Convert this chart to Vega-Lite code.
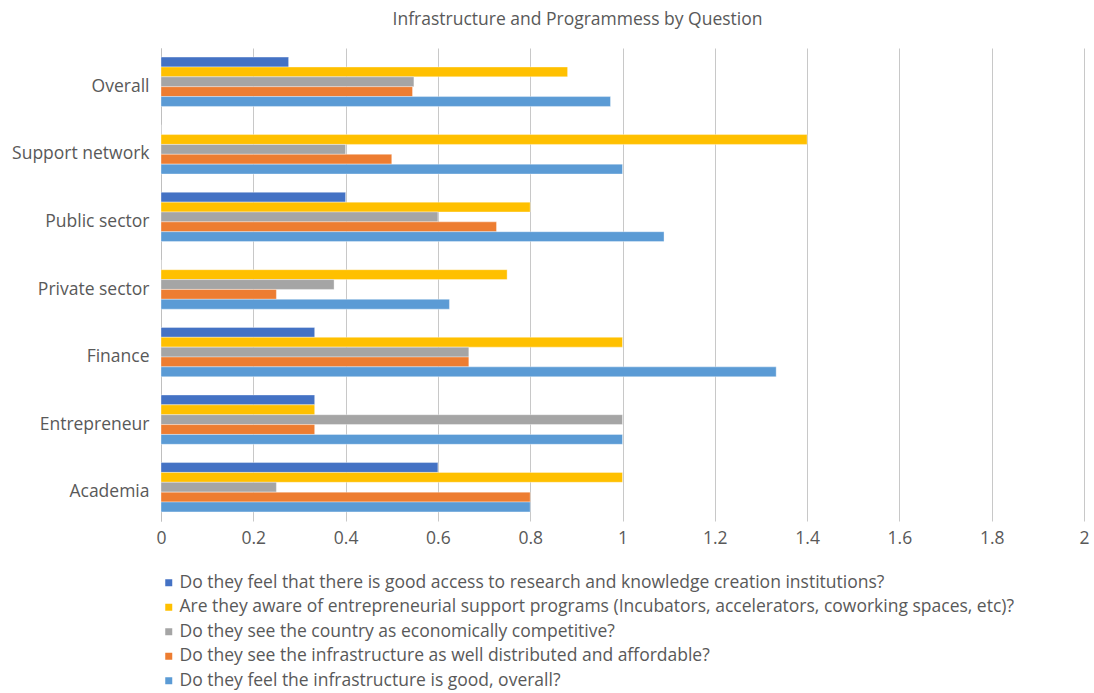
{
  "$schema": "https://vega.github.io/schema/vega-lite/v6.json",
  "autosize": {"type": "none"},
  "padding": {"left": 161, "top": 48, "right": 10, "bottom": 172},
  "width": 923,
  "height": 473,
  "background": "white",
  "title": {
    "text": "Infrastructure and Programmess by Question",
    "anchor": "middle",
    "dx": -45,
    "offset": 20,
    "fontSize": 17.5,
    "font": "Open Sans",
    "fontWeight": 400,
    "color": "#595959"
  },
  "config": {
    "view": {"stroke": null},
    "font": "Open Sans"
  },
  "data": {
    "values": [
      {"group": "Overall", "question": "Do they feel that there is good access to research and knowledge creation institutions?", "value": 0.2765},
      {"group": "Overall", "question": "Are they aware of entrepreneurial support programs (Incubators, accelerators, coworking spaces, etc)?", "value": 0.881},
      {"group": "Overall", "question": "Do they see the country as economically competitive?", "value": 0.548},
      {"group": "Overall", "question": "Do they see the infrastructure as well distributed and affordable?", "value": 0.545},
      {"group": "Overall", "question": "Do they feel the infrastructure is good, overall?", "value": 0.974},

      {"group": "Support network", "question": "Do they feel that there is good access to research and knowledge creation institutions?", "value": 0},
      {"group": "Support network", "question": "Are they aware of entrepreneurial support programs (Incubators, accelerators, coworking spaces, etc)?", "value": 1.4},
      {"group": "Support network", "question": "Do they see the country as economically competitive?", "value": 0.4},
      {"group": "Support network", "question": "Do they see the infrastructure as well distributed and affordable?", "value": 0.5},
      {"group": "Support network", "question": "Do they feel the infrastructure is good, overall?", "value": 1.0},

      {"group": "Public sector", "question": "Do they feel that there is good access to research and knowledge creation institutions?", "value": 0.4},
      {"group": "Public sector", "question": "Are they aware of entrepreneurial support programs (Incubators, accelerators, coworking spaces, etc)?", "value": 0.8},
      {"group": "Public sector", "question": "Do they see the country as economically competitive?", "value": 0.6},
      {"group": "Public sector", "question": "Do they see the infrastructure as well distributed and affordable?", "value": 0.727},
      {"group": "Public sector", "question": "Do they feel the infrastructure is good, overall?", "value": 1.09},

      {"group": "Private sector", "question": "Do they feel that there is good access to research and knowledge creation institutions?", "value": 0},
      {"group": "Private sector", "question": "Are they aware of entrepreneurial support programs (Incubators, accelerators, coworking spaces, etc)?", "value": 0.75},
      {"group": "Private sector", "question": "Do they see the country as economically competitive?", "value": 0.375},
      {"group": "Private sector", "question": "Do they see the infrastructure as well distributed and affordable?", "value": 0.25},
      {"group": "Private sector", "question": "Do they feel the infrastructure is good, overall?", "value": 0.625},

      {"group": "Finance", "question": "Do they feel that there is good access to research and knowledge creation institutions?", "value": 0.333},
      {"group": "Finance", "question": "Are they aware of entrepreneurial support programs (Incubators, accelerators, coworking spaces, etc)?", "value": 1.0},
      {"group": "Finance", "question": "Do they see the country as economically competitive?", "value": 0.667},
      {"group": "Finance", "question": "Do they see the infrastructure as well distributed and affordable?", "value": 0.667},
      {"group": "Finance", "question": "Do they feel the infrastructure is good, overall?", "value": 1.333},

      {"group": "Entrepreneur", "question": "Do they feel that there is good access to research and knowledge creation institutions?", "value": 0.333},
      {"group": "Entrepreneur", "question": "Are they aware of entrepreneurial support programs (Incubators, accelerators, coworking spaces, etc)?", "value": 0.333},
      {"group": "Entrepreneur", "question": "Do they see the country as economically competitive?", "value": 1.0},
      {"group": "Entrepreneur", "question": "Do they see the infrastructure as well distributed and affordable?", "value": 0.333},
      {"group": "Entrepreneur", "question": "Do they feel the infrastructure is good, overall?", "value": 1.0},

      {"group": "Academia", "question": "Do they feel that there is good access to research and knowledge creation institutions?", "value": 0.6},
      {"group": "Academia", "question": "Are they aware of entrepreneurial support programs (Incubators, accelerators, coworking spaces, etc)?", "value": 1.0},
      {"group": "Academia", "question": "Do they see the country as economically competitive?", "value": 0.25},
      {"group": "Academia", "question": "Do they see the infrastructure as well distributed and affordable?", "value": 0.8},
      {"group": "Academia", "question": "Do they feel the infrastructure is good, overall?", "value": 0.8}
    ]
  },
  "mark": {"type": "bar", "stroke": "white", "strokeWidth": 0.6, "strokeOpacity": 0.6},
  "encoding": {
    "y": {
      "field": "group",
      "type": "nominal",
      "sort": ["Overall", "Support network", "Public sector", "Private sector", "Finance", "Entrepreneur", "Academia"],
      "scale": {"paddingInner": 0.27, "paddingOuter": 0.135},
      "axis": {
        "title": null,
        "ticks": false,
        "domain": true,
        "domainColor": "#BFBFBF",
        "domainWidth": 1,
        "labelPadding": 12,
        "labelOffset": 5,
        "labelFontSize": 17.5,
        "labelFont": "Open Sans",
        "labelFontWeight": 400,
        "labelColor": "#595959",
        "grid": false
      }
    },
    "yOffset": {
      "field": "question",
      "type": "nominal",
      "sort": [
        "Do they feel that there is good access to research and knowledge creation institutions?",
        "Are they aware of entrepreneurial support programs (Incubators, accelerators, coworking spaces, etc)?",
        "Do they see the country as economically competitive?",
        "Do they see the infrastructure as well distributed and affordable?",
        "Do they feel the infrastructure is good, overall?"
      ],
      "scale": {"paddingInner": 0, "paddingOuter": 0}
    },
    "x": {
      "field": "value",
      "type": "quantitative",
      "scale": {"domain": [0, 2], "nice": false},
      "axis": {
        "title": null,
        "values": [0, 0.2, 0.4, 0.6, 0.8, 1, 1.2, 1.4, 1.6, 1.8, 2],
        "labelExpr": "format(datum.value, '~g')",
        "domain": false,
        "ticks": false,
        "grid": true,
        "gridColor": "#C8C8C8",
        "gridWidth": 1,
        "labelPadding": 8,
        "labelFontSize": 17.5,
        "labelFont": "Open Sans",
        "labelFontWeight": 400,
        "labelColor": "#595959",
        "labelFlush": false
      }
    },
    "color": {
      "field": "question",
      "type": "nominal",
      "scale": {
        "domain": [
          "Do they feel that there is good access to research and knowledge creation institutions?",
          "Are they aware of entrepreneurial support programs (Incubators, accelerators, coworking spaces, etc)?",
          "Do they see the country as economically competitive?",
          "Do they see the infrastructure as well distributed and affordable?",
          "Do they feel the infrastructure is good, overall?"
        ],
        "range": ["#4472C4", "#FFC000", "#A5A5A5", "#ED7D31", "#5B9BD5"]
      },
      "legend": {
        "title": null,
        "orient": "none",
        "legendX": -1,
        "legendY": 526,
        "direction": "vertical",
        "symbolType": "square",
        "symbolSize": 49,
        "symbolStrokeWidth": 0,
        "labelOffset": 2,
        "labelFontSize": 17.5,
        "labelFont": "Open Sans",
        "labelFontWeight": 400,
        "labelColor": "#595959",
        "labelLimit": 1000,
        "rowPadding": 5.5,
        "padding": 0
      }
    }
  }
}
